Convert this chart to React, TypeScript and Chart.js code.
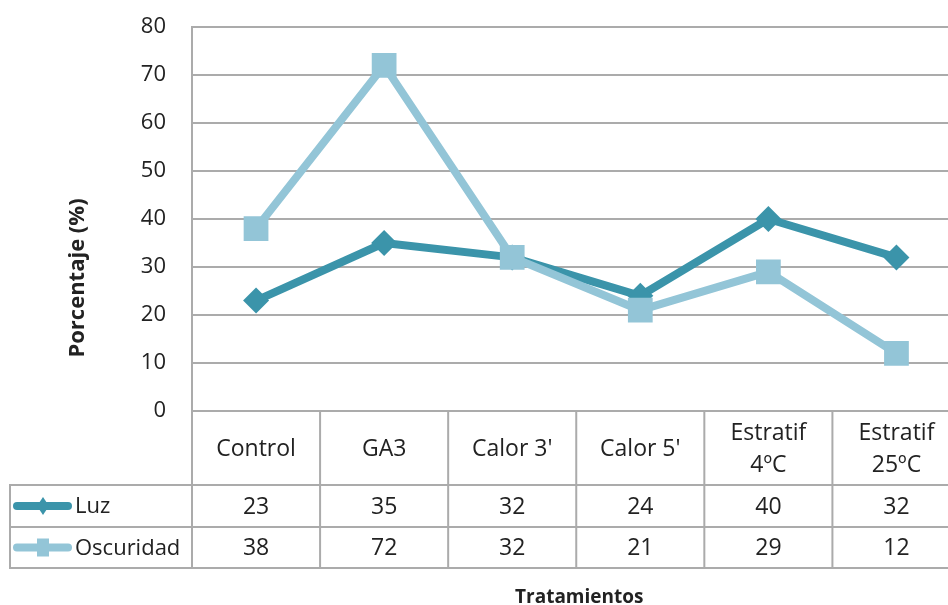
import React, { useEffect, useRef } from "react";
import { Chart, registerables } from "chart.js";

Chart.register(...registerables);

const categories: string[][] = [
  ["Control"],
  ["GA3"],
  ["Calor 3'"],
  ["Calor 5'"],
  ["Estratif", "4ºC"],
  ["Estratif", "25ºC"],
];
const luz = [23, 35, 32, 24, 40, 32];
const oscuridad = [38, 72, 32, 21, 29, 12];
const seriesNames = ["Luz", "Oscuridad"];
const yMin = 0;
const yMax = 80;
const yStep = 10;
const yTitle = "Porcentaje (%)";
const xTitle = "Tratamientos";

const LUZ_COLOR = "#3B94AA";
const OSC_COLOR = "#93C5D7";
const GRID = "#ABABAB";
const TEXT = "#222222";
const FONT = "'Open Sans', 'Noto Sans', sans-serif";

const tablePlugin = {
  id: "dataTable",
  afterDraw(chart: any) {
    const { ctx, chartArea, scales } = chart;
    const x = scales.x;
    const y = scales.y;
    const y0 = y.getPixelForValue(0);
    const headerBottom = y0 + 74;
    const row1Bottom = headerBottom + 42;
    const row2Bottom = row1Bottom + 41;
    const tableLeft = 10;
    const n = categories.length;
    const colW = x.getPixelForValue(1) - x.getPixelForValue(0);

    ctx.save();
    ctx.strokeStyle = GRID;
    ctx.lineWidth = 2;
    ctx.beginPath();
    ctx.moveTo(tableLeft, headerBottom);
    ctx.lineTo(chartArea.right + 20, headerBottom);
    ctx.moveTo(tableLeft, row1Bottom);
    ctx.lineTo(chartArea.right + 20, row1Bottom);
    ctx.moveTo(tableLeft, row2Bottom);
    ctx.lineTo(chartArea.right + 20, row2Bottom);
    ctx.moveTo(tableLeft, headerBottom - 1);
    ctx.lineTo(tableLeft, row2Bottom + 1);
    for (let i = 0; i <= n; i++) {
      const cx = x.getPixelForValue(i) - colW / 2;
      ctx.moveTo(cx, y0);
      ctx.lineTo(cx, row2Bottom + 1);
    }
    ctx.stroke();

    ctx.fillStyle = TEXT;
    ctx.font = `23px ${FONT}`;
    ctx.textAlign = "center";
    ctx.textBaseline = "middle";
    const headerMid = (y0 + headerBottom) / 2;
    categories.forEach((lines, i) => {
      const cx = x.getPixelForValue(i);
      const lh = 32;
      const start = headerMid - ((lines.length - 1) * lh) / 2;
      lines.forEach((t, j) => ctx.fillText(t, cx, start + j * lh + 1));
    });

    const r1 = (headerBottom + row1Bottom) / 2;
    const r2 = (row1Bottom + row2Bottom) / 2;
    luz.forEach((v, i) => ctx.fillText(String(v), x.getPixelForValue(i), r1 + 1));
    oscuridad.forEach((v, i) => ctx.fillText(String(v), x.getPixelForValue(i), r2 + 1));

    const keyL = 13;
    const keyR = 72;
    const keyMid = 43;
    ctx.lineCap = "round";
    ctx.lineWidth = 8;
    ctx.strokeStyle = LUZ_COLOR;
    ctx.beginPath();
    ctx.moveTo(keyL + 4, r1);
    ctx.lineTo(keyR - 4, r1);
    ctx.stroke();
    ctx.fillStyle = LUZ_COLOR;
    ctx.beginPath();
    ctx.moveTo(keyMid, r1 - 9);
    ctx.lineTo(keyMid + 6, r1);
    ctx.lineTo(keyMid, r1 + 9);
    ctx.lineTo(keyMid - 6, r1);
    ctx.closePath();
    ctx.fill();

    ctx.strokeStyle = OSC_COLOR;
    ctx.beginPath();
    ctx.moveTo(keyL + 4, r2);
    ctx.lineTo(keyR - 4, r2);
    ctx.stroke();
    ctx.fillStyle = OSC_COLOR;
    ctx.fillRect(keyMid - 6, r2 - 9, 12, 18);

    ctx.fillStyle = TEXT;
    ctx.textAlign = "left";
    ctx.font = `22px ${FONT}`;
    ctx.fillText(seriesNames[0], 75, r1 + 1);
    ctx.fillText(seriesNames[1], 75, r2 + 1);

    ctx.font = `bold 22px ${FONT}`;
    ctx.textAlign = "center";
    ctx.textBaseline = "middle";
    ctx.save();
    ctx.translate(78, 278);
    ctx.rotate(-Math.PI / 2);
    ctx.fillText(yTitle, 0, 0);
    ctx.restore();

    ctx.font = `bold 19px ${FONT}`;
    ctx.textBaseline = "alphabetic";
    ctx.fillText(xTitle, (chartArea.left + chartArea.right) / 2 + 3, 603);
    ctx.restore();
  },
};

export default function App() {
  const ref = useRef<HTMLCanvasElement | null>(null);
  useEffect(() => {
    if (!ref.current) return;
    const chart = new Chart(ref.current, {
      type: "line",
      data: {
        labels: categories.map((c) => c.join(" ")),
        datasets: [
          {
            label: seriesNames[0],
            data: luz,
            borderColor: LUZ_COLOR,
            backgroundColor: LUZ_COLOR,
            borderWidth: 8,
            pointStyle: "rectRot",
            pointRadius: 13,
            pointBorderWidth: 0,
            borderJoinStyle: "round",
            borderCapStyle: "round",
            order: 1,
          },
          {
            label: seriesNames[1],
            data: oscuridad,
            borderColor: OSC_COLOR,
            backgroundColor: OSC_COLOR,
            borderWidth: 8,
            pointStyle: "rect",
            pointRadius: 17.5,
            pointBorderWidth: 0,
            borderJoinStyle: "round",
            borderCapStyle: "round",
            order: 0,
          },
        ],
      },
      options: {
        responsive: false,
        animation: false,
        layout: { padding: { top: 27, bottom: 194, left: 0, right: 0 } },
        plugins: {
          legend: { display: false },
          tooltip: { enabled: false },
          title: { display: false },
        },
        scales: {
          x: {
            type: "category",
            offset: true,
            display: false,
          },
          y: {
            min: yMin,
            max: yMax,
            ticks: {
              stepSize: yStep,
              padding: 26,
              color: TEXT,
              font: { size: 22, family: FONT },
            },
            grid: { color: GRID, lineWidth: 2, drawTicks: false },
            border: { color: GRID, width: 2 },
            afterFit: (s: any) => {
              s.width = 192;
              s.paddingTop = 0;
              s.paddingBottom = 0;
            },
          },
        },
      },
      plugins: [tablePlugin],
    } as any);
    return () => chart.destroy();
  }, []);
  return (
    <div
      style={{
        position: "absolute",
        left: 0,
        top: 0,
        width: 948,
        height: 605,
        overflow: "hidden",
        background: "#fff",
      }}
    >
      <canvas ref={ref} width={978} height={605} style={{ display: "block" }} />
    </div>
  );
}
